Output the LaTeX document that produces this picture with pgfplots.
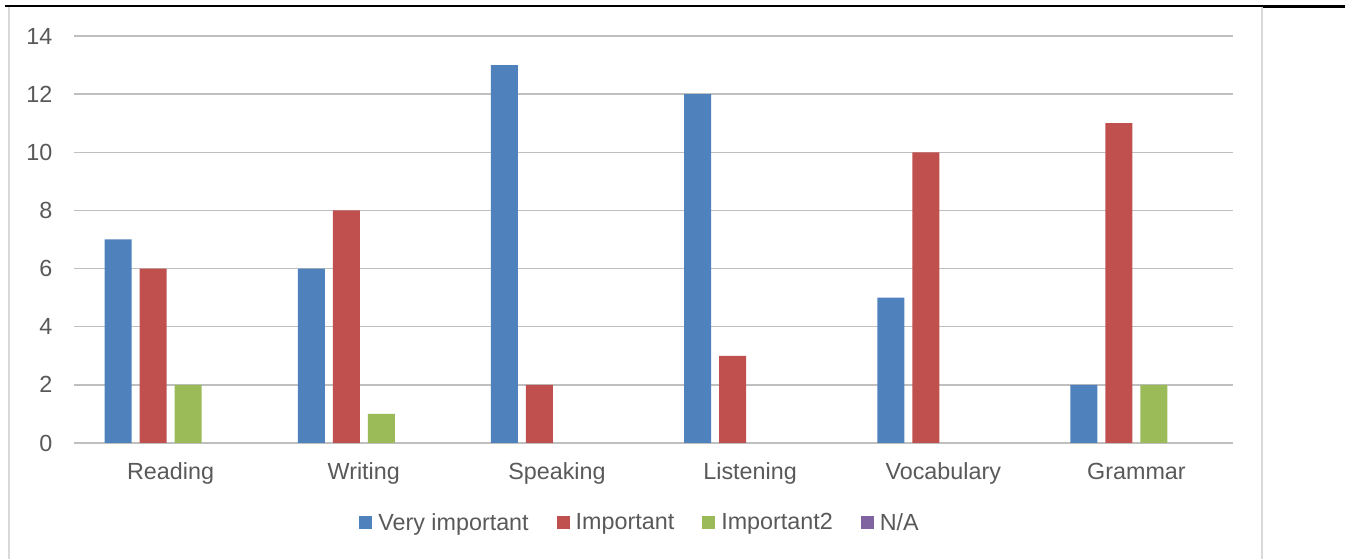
\documentclass[border=0pt]{standalone}
\usepackage{pgfplots}
\pgfplotsset{compat=1.18}
\usepackage{fontspec}
\setmainfont{Liberation Sans}
\definecolor{cblue}{HTML}{4F81BD}
\definecolor{cred}{HTML}{C0504D}
\definecolor{cgreen}{HTML}{9BBB59}
\definecolor{cpurple}{HTML}{8064A2}
\definecolor{grid}{HTML}{D9D9D9}
\definecolor{txt}{HTML}{595959}
\pgfplotsset{sq legend/.style={legend image code/.code={\fill[##1] (0pt,-4.9pt) rectangle (9.75pt,4.9pt);}}}
\begin{document}
\begin{tikzpicture}
\useasboundingbox (0,0) rectangle (1008.75pt,419.25pt);
\draw[black,line width=1.5pt] (3.75pt,414.75pt) -- (946.5pt,414.75pt);
\draw[black,line width=2.25pt] (946.5pt,414.5pt) -- (1008.75pt,414.5pt);
\draw[grid,line width=1.1pt] (6.75pt,0pt) -- (6.75pt,414pt);
\draw[grid,line width=1.1pt] (946.5pt,0pt) -- (946.5pt,414pt);
\begin{axis}[
  at={(55.5pt,87pt)}, anchor=south west,
  scale only axis, width=869.25pt, height=305.25pt,
  ybar=6pt, bar width=20.25pt,
  xmin=-0.5, xmax=5.5, ymin=0, ymax=14,
  xtick={0,1,2,3,4,5},
  xticklabels={Reading,Writing,Speaking,Listening,Vocabulary,Grammar},
  ytick={0,2,4,6,8,10,12,14},
  axis line style={draw=none},
  major tick length=0pt,
  ymajorgrids, xmajorgrids=false, grid style={grid,line width=1pt},
  restrict y to domain=0.5:20, unbounded coords=discard,
  tick label style={font=\fontsize{17.5}{21}\selectfont, text=txt, /pgf/number format/assume math mode=true},
  xticklabel style={anchor=base, inner sep=0pt, yshift=-27.5pt},
  yticklabel style={anchor=east, inner sep=0pt, xshift=-16pt},
  legend style={draw=none, fill=none, at={(0.4875,-0.196)}, anchor=center,
    legend columns=4, font=\fontsize{17.5}{21}\selectfont, text=txt,
    /tikz/every odd column/.append style={column sep=4.5pt},
    /tikz/every even column/.append style={column sep=21pt},
    nodes={inner sep=0pt, anchor=west}},
  clip=false,
]
\addplot[fill=cblue, draw=none, sq legend] coordinates {(0,7) (1,6) (2,13) (3,12) (4,5) (5,2)};
\addlegendentry{Very important}
\addplot[fill=cred, draw=none, sq legend] coordinates {(0,6) (1,8) (2,2) (3,3) (4,10) (5,11)};
\addlegendentry{Important}
\addplot[fill=cgreen, draw=none, sq legend] coordinates {(0,2) (1,1) (2,0) (3,0) (4,0) (5,2)};
\addlegendentry{Important2}
\addplot[fill=cpurple, draw=none, sq legend] coordinates {(0,0) (1,0) (2,0) (3,0) (4,0) (5,0)};
\addlegendimage{fill=cpurple, draw=none, sq legend}
\addlegendentry{N/A}
\end{axis}
\end{tikzpicture}
\end{document}
